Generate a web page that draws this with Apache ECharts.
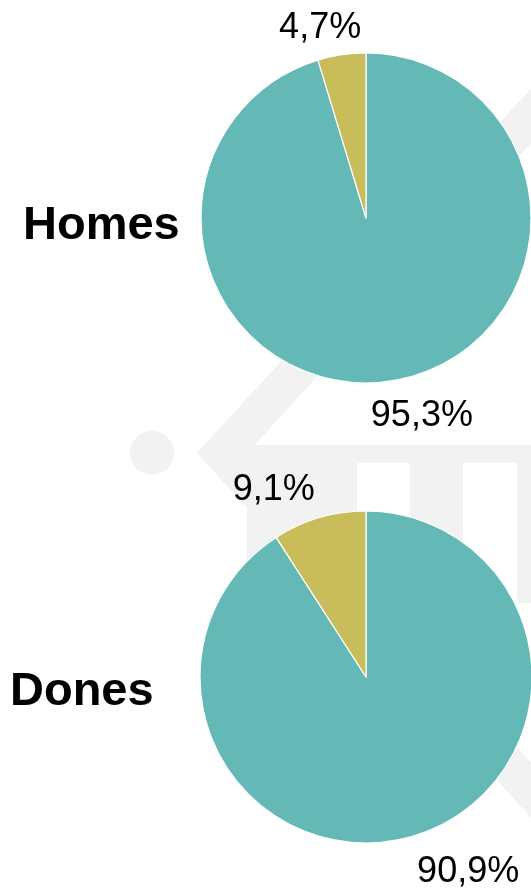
<!DOCTYPE html>
<html>
<head>
<meta charset="utf-8">
<script src="https://cdn.jsdelivr.net/npm/echarts@6/dist/echarts.min.js"></script>
<style>
html,body{margin:0;padding:0;background:#fff;}
#chart{width:531px;height:889px;}
</style>
</head>
<body>
<div id="chart"></div>
<script>
// ---- data ----
var groups = ['Homes', 'Dones'];
var categories = ['Categoria A', 'Categoria B'];
var homesValues = [95.3, 4.7];
var donesValues = [90.9, 9.1];

// ---- styling ----
var colors = ['#64b9b7', '#c8bc5b'];
var FONT = '"Liberation Sans", Arial, Helvetica, sans-serif';
var WM = '#f2f2f2';

function fmt(v) { return String(v.toFixed(1)).replace('.', ',') + '%'; }

function makeData(values) {
  return values.map(function (v, i) {
    return { name: categories[i], value: v, itemStyle: { color: colors[i] } };
  });
}

function pieSeries(values, center, radius, len, len2) {
  return {
    type: 'pie',
    center: center,
    radius: radius,
    startAngle: 90,
    clockwise: true,
    avoidLabelOverlap: false,
    animation: false,
    silent: true,
    itemStyle: { borderColor: '#ffffff', borderWidth: 1.2 },
    label: {
      show: true,
      position: 'outside',
      formatter: function (p) { return fmt(p.value); },
      fontFamily: FONT,
      fontSize: 36,
      color: '#000000'
    },
    labelLine: { show: false, length: len, length2: len2 },
    labelLayout: { dy: 4 },
    data: makeData(values),
    z: 5
  };
}

var titleStyle = { fontFamily: FONT, fontWeight: 'bold', fontSize: 47, lineHeight: 47, color: '#000' };

var chart = echarts.init(document.getElementById('chart'), null, { renderer: 'canvas' });
chart.setOption({
  backgroundColor: '#ffffff',
  animation: false,
  title: [
    { text: groups[0], left: 18, top: 198, textStyle: titleStyle },
    { text: groups[1], left: 5, top: 664, textStyle: titleStyle }
  ],
  graphic: [
    { type: 'polyline', z: 0, silent: true,
      shape: { points: [[575, 68], [222, 453], [575, 838]] },
      style: { stroke: WM, lineWidth: 37, fill: null, lineJoin: 'miter' } },
    { type: 'circle', z: 0, silent: true,
      shape: { cx: 152, cy: 453, r: 22 }, style: { fill: WM } },
    { type: 'rect', z: 0, silent: true,
      shape: { x: 247, y: 445, width: 290, height: 18 }, style: { fill: WM } },
    { type: 'rect', z: 0, silent: true,
      shape: { x: 247, y: 463, width: 110, height: 140 }, style: { fill: WM } },
    { type: 'rect', z: 0, silent: true,
      shape: { x: 410, y: 463, width: 53, height: 140 }, style: { fill: WM } },
    { type: 'rect', z: 0, silent: true,
      shape: { x: 517, y: 463, width: 20, height: 140 }, style: { fill: WM } }
  ],
  series: [
    pieSeries(homesValues, [366, 218], 165, 31, -29),
    pieSeries(donesValues, [366, 677], 166, 33, -10)
  ]
});
</script>
</body>
</html>
